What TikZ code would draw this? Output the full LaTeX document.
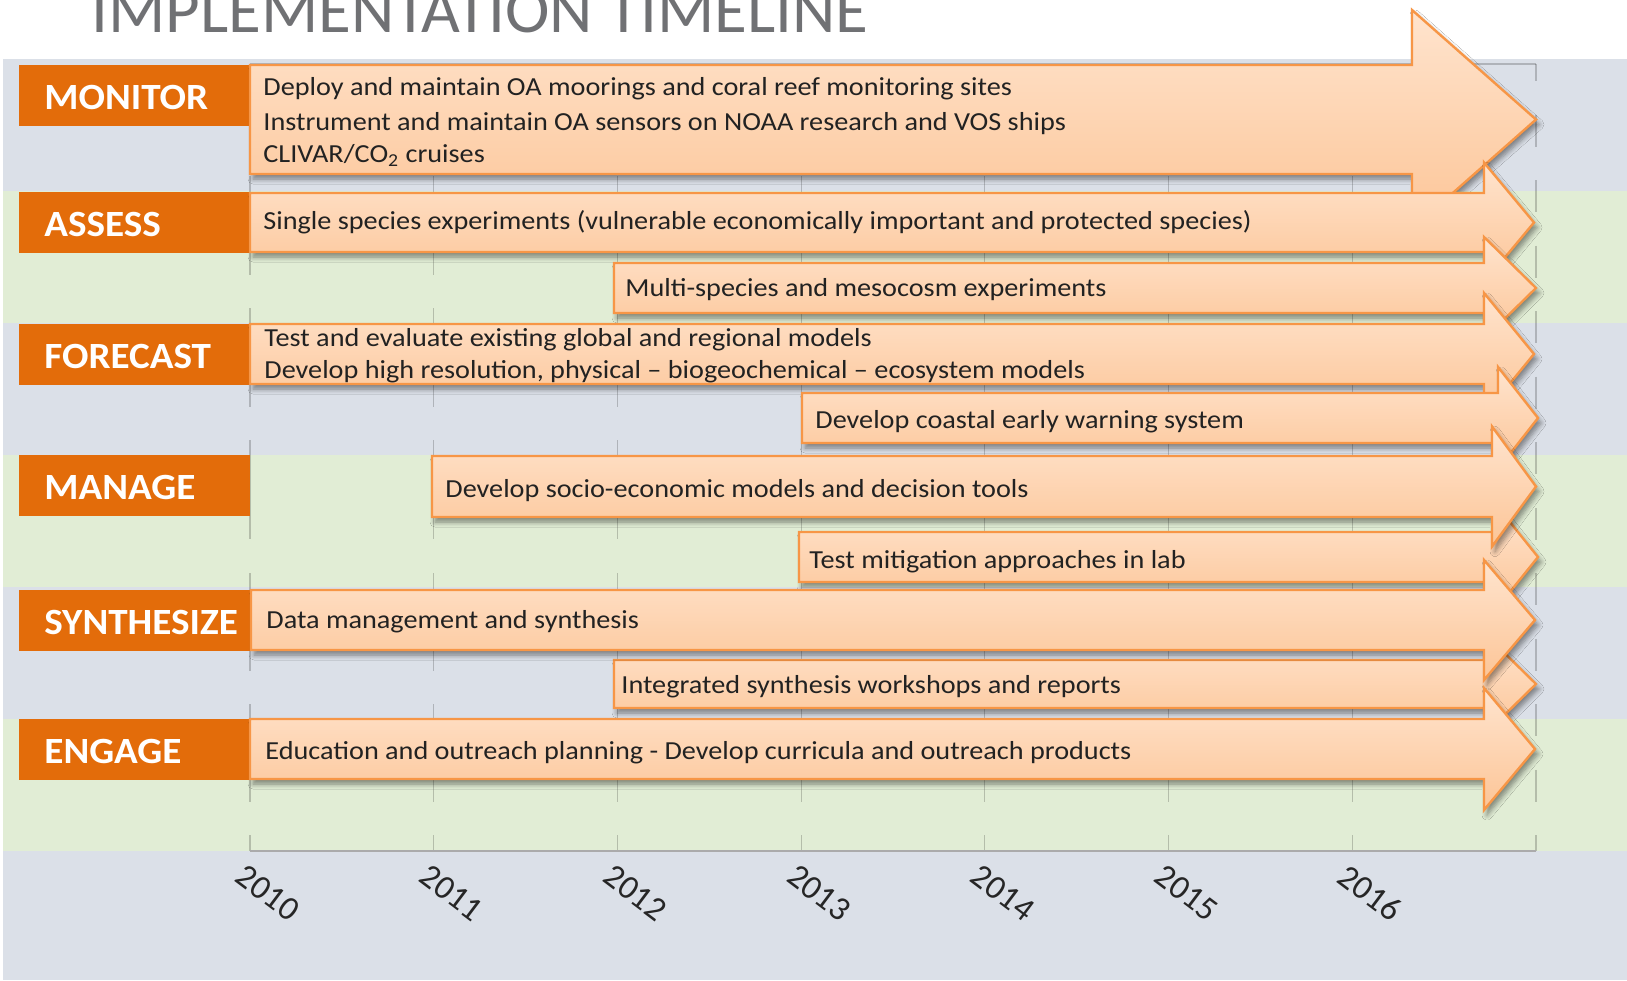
\documentclass[tikz,border=0pt]{standalone}
\usepackage{fontspec}
\setmainfont{Carlito}
\newfontfamily\arrfont[FakeStretch=1.086,Ligatures=TeX]{Carlito}
\newfontfamily\lblfont[FakeStretch=1.058,Ligatures=TeX]{Carlito}
\newfontfamily\ttlfont[FakeStretch=1.016,Ligatures=TeX]{Carlito}
\usetikzlibrary{shadows.blur}
\definecolor{bandblue}{HTML}{DBE0E8}
\definecolor{bandgreen}{HTML}{E1EDD5}
\definecolor{lblorange}{HTML}{E36C0A}
\definecolor{arrline}{HTML}{F79646}
\definecolor{arrtop}{HTML}{FFE4CE}
\definecolor{arrbot}{HTML}{FCC597}
\definecolor{titlegray}{HTML}{707174}
\definecolor{txt}{HTML}{222222}
\newcommand\tlarrow[6]{%
  \path[arrowshape] ({#1},{#2-#3}) -- ({#4},{#2-#3}) -- ({#4},{#2-#5}) -- ({#6},{#2})
    -- ({#4},{#2+#5}) -- ({#4},{#2+#3}) -- ({#1},{#2+#3}) -- cycle;}
\begin{document}
\begin{tikzpicture}[x=0.5pt,y=-0.5pt,
  lbl/.style={fill=lblorange, text=white, font=\lblfont\bfseries\fontsize{18.5}{20}\selectfont,
    minimum width=115.5pt, minimum height=30.5pt, text width=90.5pt, inner xsep=12.5pt,
    inner ysep=0pt, text height=14pt, text depth=0pt, align=left, anchor=north west},
  atxt/.style={font=\arrfont\fontsize{13}{15}\selectfont, text=txt, anchor=base west, inner sep=0pt},
  yr/.style={font=\fontsize{17}{19}\selectfont, rotate=-37, anchor=center, text=black!85, inner sep=0pt},
  gridln/.style={draw=black, draw opacity=0.2, line width=0.6pt},
  arrowshape/.style={draw=arrline, line width=1.2pt, top color=arrtop, bottom color=arrbot,
    line join=miter,
    blur shadow={shadow xshift=1.5pt, shadow yshift=-2.5pt, shadow blur radius=2.5pt,
      shadow blur steps=6, shadow opacity=45}},
]
\useasboundingbox (0,0) rectangle (1627,980);
\clip (0,0) rectangle (1627,980);
\fill[white] (0,0) rectangle (1627,980);
% bands
\foreach \i in {0,2,4} \fill[bandblue] (3,{59+132*\i}) rectangle (1627,{59+132*(\i+1)});
\foreach \i in {1,3,5} \fill[bandgreen] (3,{59+132*\i}) rectangle (1627,{59+132*(\i+1)});
\fill[bandblue] (3,851) rectangle (1627,980);
% title
\node[font=\ttlfont\fontsize{33}{36}\selectfont, text=titlegray, anchor=base west, inner sep=0pt] (title) at (91,32) {IMPLEMENTATION TIMELINE};
% grid
\foreach \i in {0,...,6} {
  \foreach \a/\b in {64/143,176/275,308/407,440/539,573/671,704/802,835/851}
    \draw[gridln] ({250+183.714*\i},\a) -- ({250+183.714*\i},\b);
}
\foreach \a/\b in {64/81,114.5/146.5,180/212,245.5/277.5,311/343,376.5/408.5,442/474,507.5/539.5,573/605,638.5/670.5,704/736,769.5/801.5,835/851}
  \draw[gridln] (1536,\a) -- (1536,\b);
\draw[gridln] (250,64) -- (1536,64);
\draw[draw=black!33, line width=1pt] (250,851) -- (1536,851);
% year labels
\foreach \y [count=\i from 0] in {2010,...,2016}
  \node[yr] (y\y) at ({268+183.714*\i},893) {\y};
% category labels
\node[lbl] (mon) at (19,65) {MONITOR};
\node[lbl] (ass) at (19,192) {ASSESS};
\node[lbl] (fore) at (19,323.5) {FORECAST};
\node[lbl] (man) at (19,455) {MANAGE};
\node[lbl] (syn) at (19,590) {SYNTHESIZE};
\node[lbl] (eng) at (19,719) {ENGAGE};
% arrows (left, centre, body half, neck, head half, tip)
\tlarrow{250}{119.5}{54.5}{1412}{109.5}{1536}
\node[atxt] (a1a) at (263,95.5) {Deploy and maintain OA moorings and coral reef monitoring sites};
\node[atxt] (a1b) at (263,130) {Instrument and maintain OA sensors on NOAA research and VOS ships};
\node[atxt] (a1c) at (263,162.5) {CLIVAR/CO\textsubscript{2} cruises};
\tlarrow{250}{222.5}{29.5}{1484}{60}{1534}
\node[atxt] (a2) at (263,229) {Single species experiments (vulnerable economically important and protected species)};
\tlarrow{614}{288}{25}{1484}{51}{1536}
\node[atxt] (a3) at (625,296) {Multi-species and mesocosm experiments};
\tlarrow{250}{354}{30}{1484}{61}{1534}
\node[atxt] (a4a) at (264,346) {Test and evaluate existing global and regional models};
\node[atxt] (a4b) at (264,378) {Develop high resolution, physical -- biogeochemical -- ecosystem models};
\tlarrow{802}{418}{25}{1498}{51}{1538}
\node[atxt] (a5) at (815,428) {Develop coastal early warning system};
\tlarrow{799}{557}{25}{1497}{51}{1538}
\node[atxt] (a7) at (809,568) {Test mitigation approaches in lab};
\tlarrow{432}{486.5}{30.5}{1492}{60}{1536}
\node[atxt] (a6) at (445,497) {Develop socio-economic models and decision tools};
\tlarrow{614}{684}{24}{1484}{51}{1536}
\node[atxt] (a9) at (621,693) {Integrated synthesis workshops and reports};
\tlarrow{251}{620}{30}{1484}{60}{1535}
\node[atxt] (a8) at (266,628) {Data management and synthesis};
\tlarrow{250}{749}{30}{1484}{61}{1535}
\node[atxt] (a10) at (265,759) {Education and outreach planning - Develop curricula and outreach products};
\end{tikzpicture}
\end{document}
